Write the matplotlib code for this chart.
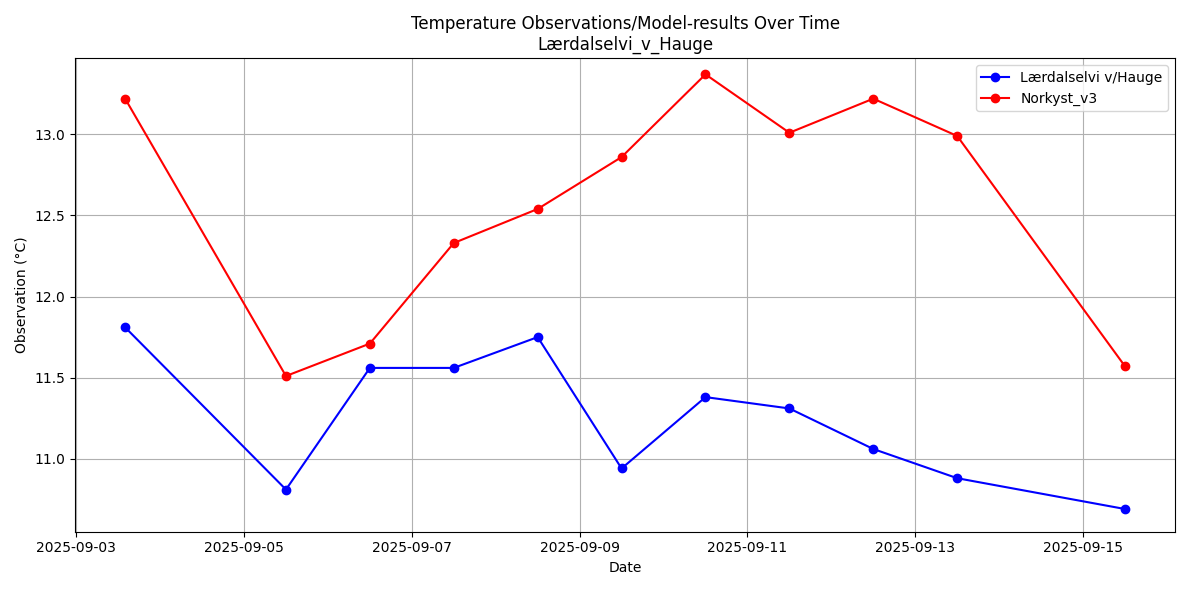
import matplotlib
matplotlib.use("Agg")
import matplotlib.pyplot as plt
import matplotlib.dates as mdates
import pandas as pd

times = pd.to_datetime([
    "2025-09-03 14:00", "2025-09-05 12:00", "2025-09-06 12:00", "2025-09-07 12:00",
    "2025-09-08 12:00", "2025-09-09 12:00", "2025-09-10 12:00", "2025-09-11 12:00",
    "2025-09-12 12:00", "2025-09-13 12:00", "2025-09-15 12:00",
])
observed = [11.81, 10.81, 11.56, 11.56, 11.75, 10.94, 11.38, 11.31, 11.06, 10.88, 10.69]
model = [13.22, 11.51, 11.71, 12.33, 12.54, 12.86, 13.37, 13.01, 13.22, 12.99, 11.57]

fig, ax = plt.subplots(figsize=(11.9, 5.9), dpi=100)
ax.plot(times, observed, marker="o", color="blue", label="Lærdalselvi v/Hauge")
ax.plot(times, model, marker="o", color="red", label="Norkyst_v3")
ax.xaxis.set_major_locator(mdates.DayLocator(interval=2))
ax.xaxis.set_major_formatter(mdates.DateFormatter("%Y-%m-%d"))
ax.set_ylim(10.55, 13.47)
ax.set_xlabel("Date")
ax.set_ylabel("Observation (°C)")
ax.set_title("Temperature Observations/Model-results Over Time\nLærdalselvi_v_Hauge")
ax.grid(True)
ax.legend()
plt.tight_layout()
plt.savefig("out.png")
